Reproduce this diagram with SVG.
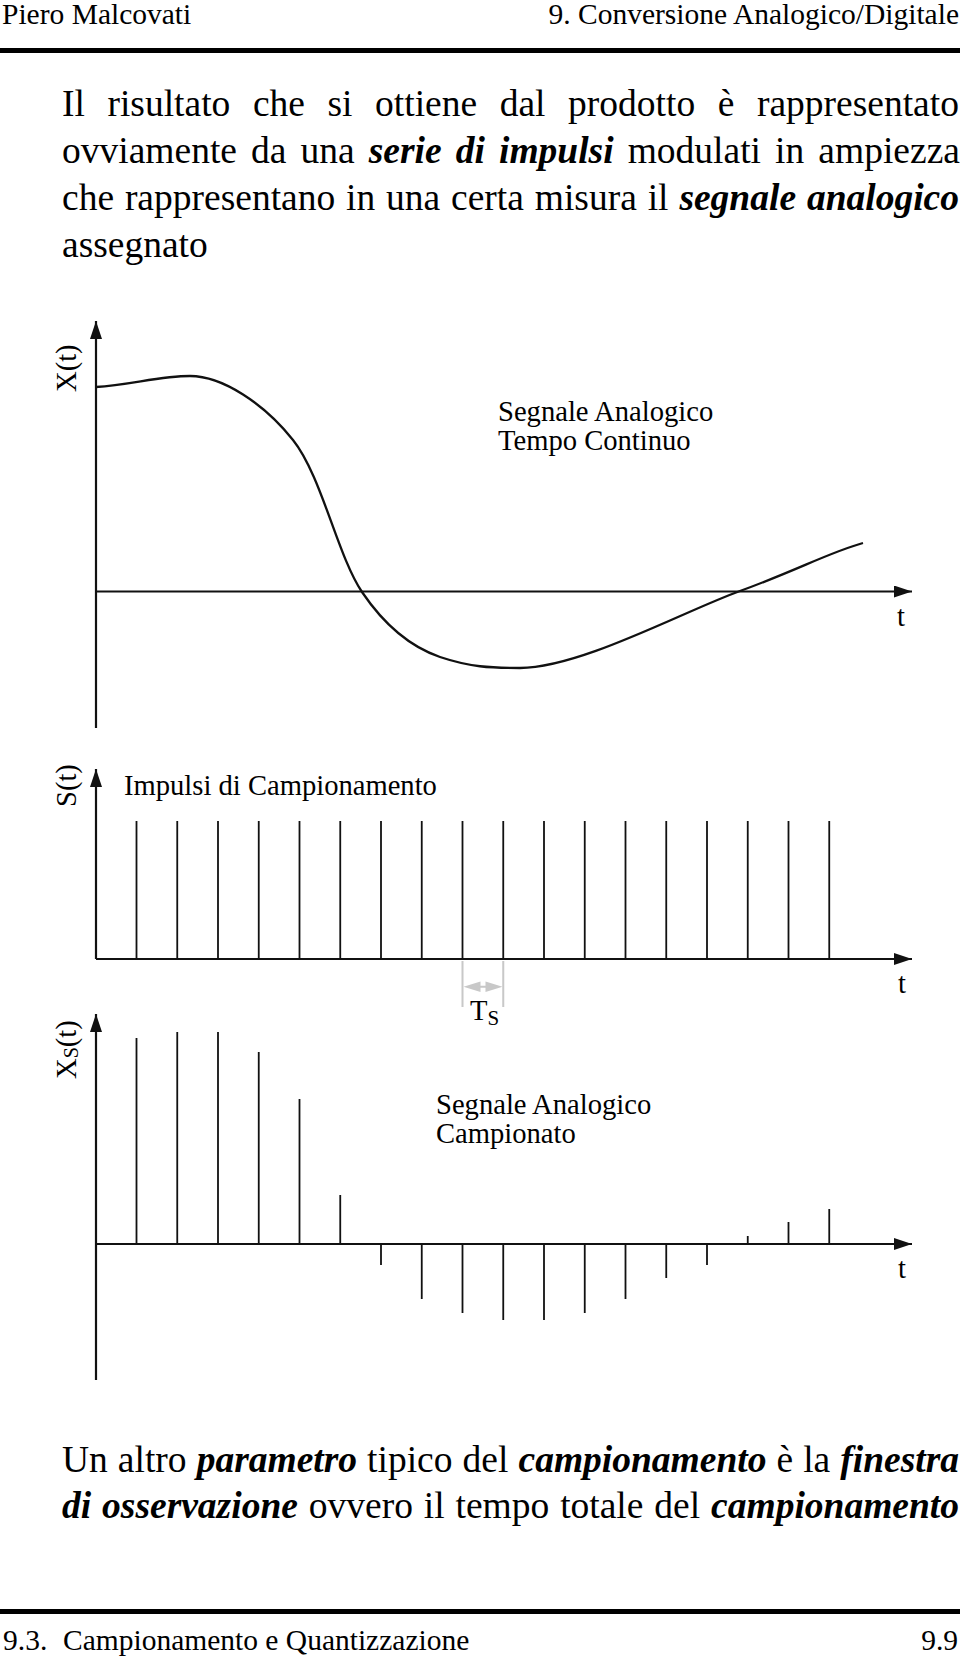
<svg xmlns="http://www.w3.org/2000/svg" width="960" height="1657" viewBox="0 0 960 1657">
<style>
text{font-family:"Liberation Serif","Times New Roman",serif;fill:#000}
.body{font-size:37.5px}
.bi{font-weight:bold;font-style:italic}
.hdr{font-size:29.5px}
.lbl{font-size:28.6px}
.axis{stroke:#111;stroke-width:2.2;fill:none}
.curve{stroke:#111;stroke-width:2.3;fill:none}
.imp{stroke:#111;stroke-width:1.8;fill:none}
.gray{stroke:#c8c8c8;stroke-width:2;fill:none}
</style>
<defs>
<marker id="ah" markerUnits="userSpaceOnUse" markerWidth="18" markerHeight="12" refX="18" refY="6" orient="auto" viewBox="0 0 18 12">
<path d="M0,0 L18,6 L0,12 Z" fill="#111"/>
</marker>
</defs>
<rect fill="#fff" x="0" y="0" width="960" height="1657"/>

<g id="header">
<text class="hdr" x="2" y="24">Piero Malcovati</text>
<text class="hdr" x="959" y="24" text-anchor="end">9. Conversione Analogico/Digitale</text>
<rect x="0" y="48" width="960" height="5" fill="#000"/>
</g>

<g id="intro-text" class="body">
<text class="body" y="116"><tspan x="62">Il</tspan><tspan x="107.46">risultato</tspan><tspan x="252.94">che</tspan><tspan x="327.54">si</tspan><tspan x="375.1">ottiene</tspan><tspan x="499.73">dal</tspan><tspan x="568.11">prodotto</tspan><tspan x="717.75">è</tspan><tspan x="756.95">rappresentato</tspan></text>
<text class="body" y="163"><tspan x="62">ovviamente</tspan><tspan x="251.07">da</tspan><tspan x="300.54">una</tspan><tspan class="bi" x="368.76">serie</tspan><tspan class="bi" x="455.73">di</tspan><tspan class="bi" x="499">impulsi</tspan><tspan x="627.67">modulati</tspan><tspan x="775.09">in</tspan><tspan x="818.36">ampiezza</tspan></text>
<text class="body" y="210"><tspan x="62">che</tspan><tspan x="124.89">rappresentano</tspan><tspan x="346.07">in</tspan><tspan x="386.09">una</tspan><tspan x="451.08">certa</tspan><tspan x="534.78">misura</tspan><tspan x="647.7">il</tspan><tspan class="bi" x="679.39">segnale</tspan><tspan class="bi" x="806.89">analogico</tspan></text>
<text class="body" x="62" y="257">assegnato</text>
</g>

<g id="graph-continuous">
<path class="axis" d="M96,728 L96,321" marker-end="url(#ah)"/>
<path class="axis" d="M96,591.5 L912,591.5" marker-end="url(#ah)"/>
<path class="curve" d="M96,387 C130,385 160,376 190,376 C222.8,376 264.3,404 293,440 C321.7,476 337.5,555.8 362,592 C383,623 408,646 440,657 C470,667 490,668 520,668 C580,668 682.8,611.7 740,591 C797.2,570.3 830,552 863,543"/>
<text class="lbl" transform="translate(76,392) rotate(-90)">X(t)</text>
<text class="lbl" x="498" y="421">Segnale Analogico</text>
<text class="lbl" x="498" y="450">Tempo Continuo</text>
<text class="lbl" x="897" y="626">t</text>
</g>

<g id="graph-impulses">
<path class="axis" d="M96,959 L96,769" marker-end="url(#ah)"/>
<path class="axis" d="M96,959 L912,959" marker-end="url(#ah)"/>
<path class="imp" d="M136.5,959V821M177.25,959V821M218,959V821M258.75,959V821M299.5,959V821M340.25,959V821M381,959V821M421.75,959V821M462.5,959V821M503.25,959V821M544,959V821M584.75,959V821M625.5,959V821M666.25,959V821M707,959V821M747.75,959V821M788.5,959V821M829.25,959V821"/>
<text class="lbl" transform="translate(76,807) rotate(-90)">S(t)</text>
<text class="lbl" x="124" y="795">Impulsi di Campionamento</text>
<text class="lbl" x="898" y="993">t</text>
</g>

<g id="ts-marker">
<path class="gray" d="M462.5,961V1007M503.25,961V1007M480,986.7H486"/>
<polygon points="463.5,986.7 480.5,981.5 480.5,992" fill="#c8c8c8"/>
<polygon points="502.5,986.7 485.5,981.5 485.5,992" fill="#c8c8c8"/>
<text class="lbl" x="470" y="1020" font-size="27">T<tspan font-size="21" dy="5">S</tspan></text>
</g>

<g id="graph-sampled">
<path class="axis" d="M96,1380 L96,1014" marker-end="url(#ah)"/>
<path class="axis" d="M96,1244 L912,1244" marker-end="url(#ah)"/>
<path class="imp" d="M136.5,1244V1038M177.25,1244V1032M218,1244V1032M258.75,1244V1052M299.5,1244V1099M340.25,1244V1195M381,1244V1265M421.75,1244V1299M462.5,1244V1313M503.25,1244V1320M544,1244V1320M584.75,1244V1313M625.5,1244V1299M666.25,1244V1278M707,1244V1265M747.75,1244V1236M788.5,1244V1222M829.25,1244V1209"/>
<text class="lbl" transform="translate(76,1079) rotate(-90)">X<tspan font-size="20" dy="2">S</tspan><tspan dy="-2">(t)</tspan></text>
<text class="lbl" x="436" y="1114">Segnale Analogico</text>
<text class="lbl" x="436" y="1143">Campionato</text>
<text class="lbl" x="898" y="1278">t</text>
</g>

<g id="closing-text">
<text class="body" y="1472"><tspan x="62">Un</tspan><tspan x="117.87">altro</tspan><tspan class="bi" x="196.65">parametro</tspan><tspan x="367.1">tipico</tspan><tspan x="462.6">del</tspan><tspan class="bi" x="518.5">campionamento</tspan><tspan x="776.5">è</tspan><tspan x="803.2">la</tspan><tspan class="bi" x="840.3">finestra</tspan></text>
<text class="body" y="1518"><tspan class="bi" x="62">di</tspan><tspan class="bi" x="102.06">osservazione</tspan><tspan x="308.77">ovvero</tspan><tspan x="423.79">il</tspan><tspan x="455.52">tempo</tspan><tspan x="560.15">totale</tspan><tspan x="654.36">del</tspan><tspan class="bi" x="711.07">campionamento</tspan></text>
</g>

<g id="footer">
<rect x="0" y="1609" width="960" height="5" fill="#000"/>
<text class="hdr" x="3" y="1650">9.3.</text>
<text class="hdr" x="63" y="1650">Campionamento e Quantizzazione</text>
<text class="hdr" x="958" y="1650" text-anchor="end">9.9</text>
</g>
</svg>
